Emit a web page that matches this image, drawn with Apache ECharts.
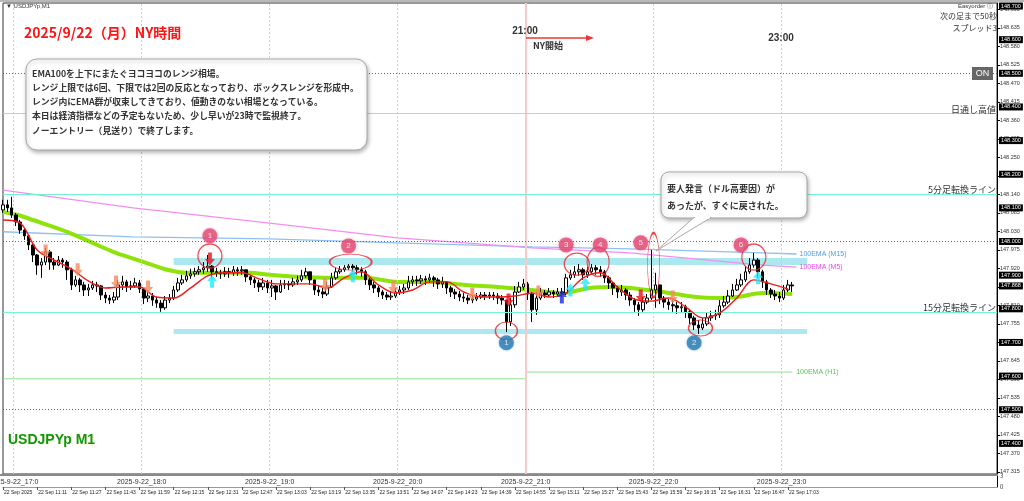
<!DOCTYPE html>
<html><head><meta charset="utf-8">
<script src="https://cdn.jsdelivr.net/npm/echarts@6/dist/echarts.min.js"></script>
<style>html,body{margin:0;padding:0;background:#fff}#c{width:1024px;height:501px}</style>
</head><body><div id="c"></div><script>
// ---- time categories (1-minute, JST) ----
const startMinute = 16 * 60 + 55;   // 16:55
const categoryCount = 467;          // up to 24:41
const cats = [];
for (let m = 0; m < categoryCount; m++) {
  const t = startMinute + m;
  cats.push(String(Math.floor(t / 60) % 24).padStart(2, '0') + ':' + String(t % 60).padStart(2, '0'));
}
const barStep = 2; // each candle spans 2 minutes, first at 16:55

// ---- candle values (USDJPY) ----
const openP = [148.094,148.109,148.100,148.079,148.058,148.034,148.017,147.990,147.960,147.930,
147.939,147.969,147.939,147.930,147.945,147.939,147.916,147.871,147.886,147.871,
147.856,147.862,147.871,147.868,147.841,147.832,147.826,147.835,147.871,147.880,
147.865,147.868,147.877,147.859,147.832,147.838,147.826,147.817,147.803,147.826,
147.832,147.856,147.877,147.886,147.898,147.904,147.910,147.916,147.922,147.927,
147.910,147.907,147.904,147.910,147.907,147.916,147.913,147.916,147.895,147.886,
147.877,147.865,147.877,147.862,147.868,147.850,147.871,147.874,147.871,147.880,
147.886,147.898,147.910,147.886,147.856,147.850,147.844,147.865,147.892,147.910,
147.916,147.922,147.927,147.922,147.916,147.910,147.886,147.871,147.862,147.850,
147.841,147.835,147.838,147.850,147.856,147.862,147.880,147.886,147.883,147.889,
147.886,147.892,147.886,147.874,147.880,147.862,147.850,147.844,147.835,147.832,
147.826,147.829,147.835,147.841,147.838,147.841,147.838,147.832,147.826,147.761,
147.812,147.850,147.865,147.874,147.844,147.797,147.832,147.847,147.841,147.850,
147.844,147.850,147.847,147.892,147.901,147.910,147.916,147.901,147.910,147.922,
147.916,147.910,147.892,147.877,147.862,147.850,147.856,147.841,147.826,147.812,
147.797,147.820,147.832,147.856,147.871,147.832,147.820,147.812,147.809,147.803,
147.806,147.791,147.773,147.752,147.743,147.755,147.773,147.779,147.782,147.809,
147.820,147.838,147.856,147.871,147.886,147.910,147.930,147.945,147.910,147.880,
147.856,147.844,147.838,147.832,147.856,147.871];
const closeP = [148.109,148.100,148.079,148.058,148.034,148.017,147.990,147.960,147.930,147.939,
147.969,147.939,147.930,147.945,147.939,147.916,147.871,147.886,147.871,147.856,
147.862,147.871,147.868,147.841,147.832,147.826,147.835,147.871,147.880,147.865,
147.868,147.877,147.859,147.832,147.838,147.826,147.817,147.803,147.826,147.832,
147.856,147.877,147.886,147.898,147.904,147.910,147.916,147.922,147.927,147.910,
147.907,147.904,147.910,147.907,147.916,147.913,147.916,147.895,147.886,147.877,
147.865,147.877,147.862,147.868,147.850,147.871,147.874,147.871,147.880,147.886,
147.898,147.910,147.886,147.856,147.850,147.844,147.865,147.892,147.910,147.916,
147.922,147.927,147.922,147.916,147.910,147.886,147.871,147.862,147.850,147.841,
147.835,147.838,147.850,147.856,147.862,147.880,147.886,147.883,147.889,147.886,
147.892,147.886,147.874,147.880,147.862,147.850,147.844,147.835,147.832,147.826,
147.829,147.835,147.841,147.838,147.841,147.838,147.832,147.826,147.761,147.812,
147.850,147.865,147.874,147.844,147.797,147.832,147.847,147.841,147.850,147.844,
147.850,147.847,147.892,147.901,147.910,147.916,147.901,147.910,147.922,147.916,
147.910,147.892,147.877,147.862,147.850,147.856,147.841,147.826,147.812,147.797,
147.820,147.832,147.856,147.871,147.832,147.820,147.812,147.809,147.803,147.806,
147.791,147.773,147.752,147.743,147.755,147.773,147.779,147.782,147.809,147.820,
147.838,147.856,147.871,147.886,147.910,147.930,147.945,147.910,147.880,147.856,
147.844,147.838,147.832,147.856,147.871,147.868];
const highP = [148.124,148.124,148.133,148.085,148.064,148.040,148.017,147.993,147.963,147.951,
147.981,147.975,147.951,147.957,147.951,147.945,147.922,147.898,147.892,147.880,
147.874,147.883,147.880,147.871,147.850,147.841,147.850,147.886,147.898,147.886,
147.883,147.892,147.886,147.862,147.856,147.847,147.835,147.826,147.838,147.844,
147.868,147.892,147.901,147.913,147.919,147.922,147.927,147.939,147.960,147.930,
147.922,147.916,147.924,147.922,147.927,147.924,147.927,147.916,147.901,147.892,
147.886,147.892,147.886,147.886,147.871,147.886,147.886,147.883,147.892,147.898,
147.916,147.922,147.910,147.886,147.868,147.862,147.880,147.907,147.922,147.927,
147.930,147.933,147.933,147.930,147.924,147.916,147.892,147.880,147.868,147.856,
147.850,147.850,147.862,147.868,147.874,147.898,147.898,147.898,147.901,147.898,
147.904,147.898,147.892,147.895,147.880,147.868,147.859,147.853,147.847,147.841,
147.841,147.847,147.850,147.850,147.850,147.850,147.847,147.841,147.826,147.832,
147.868,147.880,147.889,147.880,147.850,147.850,147.862,147.856,147.862,147.856,
147.862,147.862,147.904,147.916,147.927,147.933,147.922,147.924,147.933,147.930,
147.927,147.916,147.898,147.880,147.868,147.871,147.862,147.850,147.832,147.820,
147.835,147.844,147.975,147.907,147.871,147.838,147.829,147.826,147.820,147.820,
147.812,147.797,147.779,147.767,147.773,147.788,147.794,147.797,147.826,147.838,
147.856,147.874,147.889,147.904,147.927,147.951,147.966,147.951,147.916,147.886,
147.862,147.856,147.850,147.871,147.886,147.880];
const lowP = [148.085,148.088,148.070,148.046,148.023,148.005,147.975,147.939,147.901,147.892,
147.930,147.916,147.916,147.927,147.922,147.886,147.856,147.865,147.850,147.838,
147.838,147.856,147.850,147.826,147.817,147.814,147.817,147.826,147.856,147.850,
147.856,147.862,147.847,147.814,147.820,147.809,147.803,147.791,147.797,147.817,
147.826,147.850,147.871,147.880,147.889,147.895,147.901,147.904,147.910,147.892,
147.895,147.889,147.895,147.892,147.898,147.898,147.901,147.880,147.871,147.862,
147.850,147.856,147.847,147.835,147.826,147.847,147.859,147.856,147.865,147.871,
147.880,147.892,147.871,147.841,147.838,147.832,147.838,147.862,147.886,147.904,
147.910,147.916,147.910,147.901,147.895,147.871,147.856,147.847,147.835,147.829,
147.826,147.826,147.832,147.841,147.844,147.856,147.868,147.868,147.874,147.871,
147.877,147.865,147.859,147.862,147.844,147.835,147.829,147.823,147.820,147.814,
147.817,147.823,147.829,147.826,147.829,147.826,147.814,147.812,147.731,147.749,
147.803,147.847,147.856,147.826,147.761,147.782,147.826,147.832,147.835,147.832,
147.838,147.835,147.841,147.886,147.892,147.898,147.886,147.892,147.904,147.901,
147.895,147.877,147.859,147.841,147.832,147.838,147.826,147.809,147.791,147.779,
147.791,147.814,147.826,147.803,147.814,147.803,147.797,147.791,147.785,147.788,
147.773,147.755,147.737,147.725,147.737,147.749,147.764,147.767,147.773,147.803,
147.814,147.835,147.853,147.865,147.880,147.904,147.922,147.892,147.862,147.841,
147.832,147.826,147.820,147.826,147.850,147.850];

// ---- moving averages ----
const emaFastStep = 8; // sampled every 8 minutes from 16:55
const emaFast = [148.064,148.055,147.975,147.945,147.919,147.883,147.862,147.865,147.865,147.835,
147.832,147.862,147.898,147.907,147.907,147.889,147.874,147.874,147.874,147.862,
147.892,147.910,147.871,147.847,147.856,147.880,147.880,147.850,147.835,147.835,
147.838,147.847,147.835,147.847,147.892,147.907,147.865,147.829,147.823,147.832,
147.806,147.773,147.788,147.832,147.886,147.874,147.859];
const emaM1Times = ['16:55','17:02','17:09','17:25','17:37','17:48','18:01','18:12','18:21','18:35','18:51','19:00','19:13','19:29','19:45','20:00','20:16','20:32','20:47','21:03','21:17','21:30','21:40','21:49','22:04','22:20','22:30','22:39','22:51','23:05'];
const emaM1Values = [148.088,148.079,148.064,148.029,147.996,147.966,147.939,147.916,147.907,147.907,147.907,147.901,147.895,147.892,147.892,147.880,147.880,147.871,147.865,147.856,147.847,147.862,147.865,147.862,147.850,147.835,147.832,147.835,147.847,147.844];
const emaM5Times = ['16:55','17:56','19:00','20:00','21:03','21:49','22:51','23:07'];
const emaM5Values = [148.153,148.100,148.055,148.011,147.981,147.966,147.930,147.924];
const emaM15Times = ['16:55','17:56','19:00','20:00','21:03','21:49','22:51','23:07'];
const emaM15Values = [148.029,148.014,148.008,147.996,147.984,147.978,147.966,147.963];
const emaH1Times = ['16:55','21:00','23:05'];
const emaH1Values = [147.592,147.612,147.612];

// ---- horizontal levels ----
const levelNames = ['日通し高値','5分足転換ライン','15分足転換ライン'];
const levelValues = [148.379,148.136,147.794];
const roundLevels = [148.5,148.0,147.5];
const boxRanges = [[147.951,147.930],[147.740,147.725]];
const boxTimes = ['18:15','23:12'];
const hourLines = ['17:00','18:00','19:00','20:00','22:00','23:00'];
const nyOpen = '21:00';

// ---- annotations ----
const ellipsePoints = [['18:32',147.957],['19:38',147.939],['21:24',147.933],['21:34',147.939],['22:00',147.930],['22:47',147.954],['20:51',147.734],['22:22',147.743]];
const ellipseSizes = [[24,24],[42,16],[25,22],[22,29],[12,64],[24,26],[22,18],[24,16]];
const topNumberPoints = [['18:32',148.017],['19:37',147.987],['21:19',147.990],['21:35',147.990],['21:54',147.996],['22:41',147.990]];
const topNumberLabels = ['1','2','3','4','5','6'];
const bottomNumberPoints = [['20:51',147.699],['22:19',147.699]];
const bottomNumberLabels = ['1','2'];
const orangeDown = [['17:15',147.972],['17:30',147.916],['17:48',147.880],['18:03',147.865],['19:26',147.871],['19:58',147.865],['20:35',147.844],['21:06',147.850],['22:09',147.835]];
const redDown = [['18:32',147.948],['20:52',147.826],['21:54',147.838]];
const cyanUp = [['18:33',147.882],['19:39',147.898],['21:21',147.856],['21:28',147.874],['22:49',147.892]];
const blueUp = [['21:17',147.835]];

// ---- axis tick labels ----
const priceTicksSmall = [147.315,147.370,147.425,147.480,147.535,147.590,147.645,147.700,147.755,147.810,147.865,147.920,147.975,148.030,148.085,148.140,148.195,148.250,148.305,148.360,148.415,148.470,148.525,148.580,148.635,148.690];
const priceTicksBox = [147.400,147.500,147.600,147.700,147.800,147.900,148.000,148.100,148.200,148.300,148.400,148.500,148.600,148.700];
const timeTickCats = ['16:55','17:11','17:27','17:43','17:59','18:15','18:31','18:47','19:03','19:19','19:35','19:51','20:07','20:23','20:39','20:55','21:11','21:27','21:43','21:59','22:15','22:31','22:47','23:03'];
const timeTickLabels = ['22 Sep 2025','22 Sep 11:11','22 Sep 11:27','22 Sep 11:43','22 Sep 11:59','22 Sep 12:15','22 Sep 12:31','22 Sep 12:47','22 Sep 13:03','22 Sep 13:19','22 Sep 13:35','22 Sep 13:51','22 Sep 14:07','22 Sep 14:23','22 Sep 14:39','22 Sep 14:55','22 Sep 15:11','22 Sep 15:27','22 Sep 15:43','22 Sep 15:59','22 Sep 16:15','22 Sep 16:31','22 Sep 16:47','22 Sep 17:03'];
const hourTickCats = ['17:00','18:00','19:00','20:00','21:00','22:00','23:00'];
const hourTickLabels = ['2025-9-22_17:0','2025-9-22_18:0','2025-9-22_19:0','2025-9-22_20:0','2025-9-22_21:0','2025-9-22_22:0','2025-9-22_23:0'];

const memoLines = ['EMA100を上下にまたぐヨコヨコのレンジ相場。','レンジ上限では6回、下限では2回の反応となっており、ボックスレンジを形成中。','レンジ内にEMA群が収束してきており、値動きのない相場となっている。','本日は経済指標などの予定もないため、少し早いが23時で監視終了。','ノーエントリー（見送り）で終了します。'];
const calloutLines = ['要人発言（ドル高要因）が','あったが、すぐに戻された。'];

// ---- build ----
const JP = '"Noto Sans CJK JP", sans-serif';
const candleData = closeP.map((c, k) => [k * barStep, openP[k], c, lowP[k], highP[k]]);
const pairs = (ts, vs) => ts.map((t, i) => [t, vs[i]]);
const tickMap = {}; timeTickCats.forEach((t, i) => tickMap[t] = timeTickLabels[i]);
const hourMap = {}; hourTickCats.forEach((t, i) => hourMap[t] = hourTickLabels[i]);
const downArrow = 'path://M3,0L7,0L7,6L10,6L5,12L0,6L3,6Z';
const upArrow = 'path://M5,0L10,6L7,6L7,12L3,12L3,6L0,6Z';
const cyanLine = '#74f5d2';

function arrowSeries(name, data, symbol, color) {
  return { name, type: 'scatter', xAxisIndex: 0, yAxisIndex: 0, data, symbol, symbolSize: [10, 13],
    itemStyle: { color }, z: 8, silent: true };
}

const option = {
  animation: false,
  textStyle: { fontFamily: JP },
  grid: [
    { left: 3, right: 27, top: 3, height: 471, show: true, borderColor: '#333', borderWidth: 1, backgroundColor: 'transparent', outerBoundsMode: 'none', containLabel: false },
    { left: 3, right: 27, top: 476, height: 11, show: false, outerBoundsMode: 'none', containLabel: false }
  ],
  xAxis: [
    { type: 'category', gridIndex: 0, data: cats, boundaryGap: false,
      axisLine: { show: false }, axisTick: { show: false }, axisLabel: { show: false }, splitLine: { show: false } },
    { type: 'category', gridIndex: 1, data: cats, boundaryGap: false, position: 'bottom',
      axisLine: { show: true, lineStyle: { color: '#999', width: 1 } }, axisTick: { show: false },
      axisLabel: { show: true, inside: true, margin: 1, fontSize: 7, color: '#333', fontFamily: 'Liberation Sans', hideOverlap: false,
        interval: (i, v) => hourMap[v] !== undefined, formatter: v => hourMap[v] || '' },
      splitLine: { show: false } },
    { type: 'category', gridIndex: 1, data: cats, boundaryGap: false, position: 'bottom',
      axisLine: { show: false },
      axisTick: { show: true, length: 3, inside: false, lineStyle: { color: '#555' }, interval: (i, v) => tickMap[v] !== undefined },
      axisLabel: { show: true, margin: 3, fontSize: 5, color: '#222', align: 'left', padding: [0, 0, 0, 1], fontFamily: 'Liberation Sans', hideOverlap: false,
        interval: (i, v) => tickMap[v] !== undefined, formatter: v => tickMap[v] || '' },
      splitLine: { show: false } }
  ],
  yAxis: [
    { type: 'value', gridIndex: 0, position: 'right', min: 147.309, max: 148.709,
      axisLine: { show: true, lineStyle: { color: '#000' } },
      axisTick: { show: true, length: 3, customValues: priceTicksSmall, lineStyle: { color: '#000' } },
      axisLabel: { show: true, customValues: priceTicksSmall, fontSize: 5.5, color: '#333', margin: 3, fontFamily: 'Liberation Sans',
        formatter: v => v.toFixed(3) },
      splitLine: { show: false } },
    { type: 'value', gridIndex: 0, position: 'right', min: 147.309, max: 148.709, z: 5,
      axisLine: { show: false }, axisTick: { show: false },
      axisLabel: { show: true, customValues: priceTicksBox.concat([closeP[closeP.length - 1]]), fontSize: 5.5, color: '#fff',
        backgroundColor: '#000', padding: [1, 2, 0, 2], margin: 2, fontFamily: 'Liberation Sans', formatter: v => v.toFixed(3) },
      splitLine: { show: false } },
    { type: 'value', gridIndex: 1, position: 'right', min: 0, max: 3,
      axisLine: { show: true, lineStyle: { color: '#000' } }, axisTick: { show: false },
      axisLabel: { show: true, customValues: [0, 3], fontSize: 6, color: '#333', margin: 3 },
      splitLine: { show: false } }
  ],
  series: [
    { name: 'levels', type: 'line', xAxisIndex: 0, yAxisIndex: 0, z: 1, silent: true,
      data: pairs(emaH1Times, emaH1Values), step: 'end', symbol: 'none',
      lineStyle: { color: '#8ee08e', width: 1 },
      endLabel: { show: true, formatter: '100EMA (H1)', color: '#5cc45c', fontSize: 7, distance: 4, fontFamily: 'Liberation Sans' },
      markArea: { silent: true, itemStyle: { color: '#ace9ee' },
        data: boxRanges.map(r => [{ xAxis: boxTimes[0], yAxis: r[0] }, { xAxis: boxTimes[1], yAxis: r[1] }]) },
      markLine: { silent: true, symbol: 'none', animation: false,
        data: [].concat(
          hourLines.map(t => ({ xAxis: t, lineStyle: { color: '#cfcfcf', type: [2, 2], width: 1 }, label: { show: false } })),
          [{ xAxis: nyOpen, lineStyle: { color: '#f9c9c9', type: 'solid', width: 2 }, label: { show: false } }],
          roundLevels.map(v => ({ yAxis: v, lineStyle: { color: '#666', type: [1, 2], width: 1 }, label: { show: false } })),
          levelValues.map((v, i) => ({ yAxis: v, lineStyle: { color: cyanLine, type: 'solid', width: 1.2 },
            label: { show: true, position: 'insideEndTop', formatter: levelNames[i], color: '#333', fontSize: 9, distance: [1, 0] } }))
        ) } },
    { name: '100EMA (M15)', type: 'line', xAxisIndex: 0, yAxisIndex: 0, z: 2, silent: true,
      data: pairs(emaM15Times, emaM15Values), symbol: 'none', lineStyle: { color: '#8fc0f0', width: 1.3 },
      endLabel: { show: true, formatter: '100EMA (M15)', color: '#4f9ee8', fontSize: 7, distance: 3, fontFamily: 'Liberation Sans' } },
    { name: '100EMA (M5)', type: 'line', xAxisIndex: 0, yAxisIndex: 0, z: 2, silent: true,
      data: pairs(emaM5Times, emaM5Values), symbol: 'none', lineStyle: { color: '#f28ef2', width: 1.3 },
      endLabel: { show: true, formatter: '100EMA (M5)', color: '#ee44ee', fontSize: 7, distance: 3, fontFamily: 'Liberation Sans' } },
    { name: 'EMA100', type: 'line', xAxisIndex: 0, yAxisIndex: 0, z: 3, silent: true,
      data: pairs(emaM1Times, emaM1Values), symbol: 'none', smooth: 0.3, lineStyle: { color: '#8ee30a', width: 4 } },
    { name: 'candles', type: 'candlestick', xAxisIndex: 0, yAxisIndex: 0, z: 4, silent: true,
      data: candleData, encode: { x: 0, y: [1, 2, 3, 4] }, barWidth: 3,
      itemStyle: { color: '#ffffff', color0: '#000000', borderColor: '#000000', borderColor0: '#000000', borderWidth: 1 } },
    { name: 'EMA fast', type: 'line', xAxisIndex: 0, yAxisIndex: 0, z: 5, silent: true,
      data: emaFast.map((v, k) => [k * emaFastStep, v]), symbol: 'none', smooth: 0.35, lineStyle: { color: '#ee1c1c', width: 1.4 } },
    { name: 'ellipses', type: 'scatter', xAxisIndex: 0, yAxisIndex: 0, z: 7, silent: true,
      data: ellipsePoints, symbol: 'circle', symbolSize: (v, p) => ellipseSizes[p.dataIndex],
      itemStyle: { color: 'rgba(0,0,0,0)', borderColor: '#e8262a', borderWidth: 1.3 } },
    { name: 'topNums', type: 'scatter', xAxisIndex: 0, yAxisIndex: 0, z: 9, silent: true,
      data: topNumberPoints, symbol: 'circle', symbolSize: 15,
      itemStyle: { color: '#e24c76', shadowBlur: 3, shadowColor: 'rgba(226,76,118,0.5)' },
      label: { show: true, position: 'inside', formatter: p => topNumberLabels[p.dataIndex], color: '#fff', fontSize: 8, fontFamily: 'Liberation Sans' } },
    { name: 'bottomNums', type: 'scatter', xAxisIndex: 0, yAxisIndex: 0, z: 9, silent: true,
      data: bottomNumberPoints, symbol: 'circle', symbolSize: 15,
      itemStyle: { color: '#2a7db3', shadowBlur: 3, shadowColor: 'rgba(42,125,179,0.5)' },
      label: { show: true, position: 'inside', formatter: p => bottomNumberLabels[p.dataIndex], color: '#fff', fontSize: 8, fontFamily: 'Liberation Sans' } },
    arrowSeries('orangeDown', orangeDown, downArrow, '#f7875e'),
    arrowSeries('redDown', redDown, downArrow, '#e8121a'),
    arrowSeries('cyanUp', cyanUp, upArrow, '#1ee8ff'),
    arrowSeries('blueUp', blueUp, upArrow, '#1b2fe0')
  ],
  graphic: [
    { type: 'rect', shape: { x: 0, y: 474, width: 997, height: 2 }, style: { fill: '#8a8a8a' }, z: 50 },
    { type: 'rect', shape: { x: 0, y: 0, width: 1024, height: 2 }, style: { fill: '#b8b8b8' }, z: 50 },
    { type: 'text', x: 6, y: 6, style: { text: '▼ USDJPYp,M1', fontSize: 6, fill: '#333', verticalAlign: 'middle', fontFamily: 'Liberation Sans' }, z: 50 },
    { type: 'text', x: 24, y: 33, style: { text: '2025/9/22（月）NY時間', fontSize: 14, fontWeight: 'bold', fill: '#ff1414', verticalAlign: 'middle', fontFamily: JP }, z: 50 },
    { type: 'rect', shape: { x: 26, y: 59, width: 341, height: 91, r: 11 },
      style: { fill: '#fff', stroke: '#a8a8a8', lineWidth: 1, shadowBlur: 4, shadowOffsetX: 1, shadowOffsetY: 2, shadowColor: 'rgba(0,0,0,0.3)' }, z: 50 },
    { type: 'text', x: 32, y: 66, style: { text: memoLines.join('\n'), fontSize: 8.8, fontWeight: 'bold', lineHeight: 14.3, fill: '#333', fontFamily: JP }, z: 51 },
    { type: 'text', x: 525, y: 31, style: { text: '21:00', fontSize: 10, fontWeight: 'bold', fill: '#333', align: 'center', verticalAlign: 'middle', fontFamily: 'Liberation Sans' }, z: 50 },
    { type: 'line', shape: { x1: 526, y1: 38, x2: 588, y2: 38 }, style: { stroke: '#f03434', lineWidth: 1.5 }, z: 50 },
    { type: 'polygon', shape: { points: [[586, 35], [594, 38], [586, 41]] }, style: { fill: '#f03434' }, z: 50 },
    { type: 'text', x: 533, y: 46, style: { text: 'NY開始', fontSize: 9, fontWeight: 'bold', fill: '#333', verticalAlign: 'middle', fontFamily: JP }, z: 50 },
    { type: 'text', x: 781, y: 38, style: { text: '23:00', fontSize: 10, fontWeight: 'bold', fill: '#333', align: 'center', verticalAlign: 'middle', fontFamily: 'Liberation Sans' }, z: 50 },
    { type: 'text', x: 8, y: 440, style: { text: 'USDJPYp M1', fontSize: 14, fontWeight: 'bold', fill: '#119611', stroke: '#fffbe0', lineWidth: 1, verticalAlign: 'middle', fontFamily: 'Liberation Sans' }, z: 50 },
    { type: 'text', x: 993, y: 6, style: { text: 'Easyorder ⓘ', fontSize: 6, fill: '#333', align: 'right', verticalAlign: 'middle', fontFamily: 'Liberation Sans' }, z: 50 },
    { type: 'text', x: 997, y: 16, style: { text: '次の足まで50秒', fontSize: 8, fill: '#333', align: 'right', verticalAlign: 'middle', fontFamily: JP }, z: 50 },
    { type: 'text', x: 997, y: 28, style: { text: 'スプレッド3', fontSize: 8, fill: '#333', align: 'right', verticalAlign: 'middle', fontFamily: JP }, z: 50 },
    { type: 'rect', shape: { x: 972, y: 67, width: 21, height: 13 }, style: { fill: '#666' }, z: 50 },
    { type: 'text', x: 982.5, y: 73.5, style: { text: 'ON', fontSize: 9, fill: '#fff', align: 'center', verticalAlign: 'middle', fontFamily: 'Liberation Sans' }, z: 51 },
    { type: 'rect', shape: { x: 661, y: 172, width: 146, height: 46, r: 8 },
      style: { fill: '#fff', stroke: '#a8a8a8', lineWidth: 1, shadowBlur: 4, shadowOffsetX: 1, shadowOffsetY: 2, shadowColor: 'rgba(0,0,0,0.3)' }, z: 50 },
    { type: 'polygon', shape: { points: [[694, 217.5], [656, 251], [711, 217.5]] },
      style: { fill: '#fff', stroke: '#a8a8a8', lineWidth: 1 }, z: 51 },
    { type: 'line', shape: { x1: 695, y1: 217.5, x2: 710, y2: 217.5 }, style: { stroke: '#fff', lineWidth: 2 }, z: 52 },
    { type: 'text', x: 667, y: 180, style: { text: calloutLines.join('\n'), fontSize: 9, fontWeight: 'bold', lineHeight: 17, fill: '#333', fontFamily: JP }, z: 53 }
  ]
};
const chart = echarts.init(document.getElementById('c'));
chart.setOption(option);
</script></body></html>
